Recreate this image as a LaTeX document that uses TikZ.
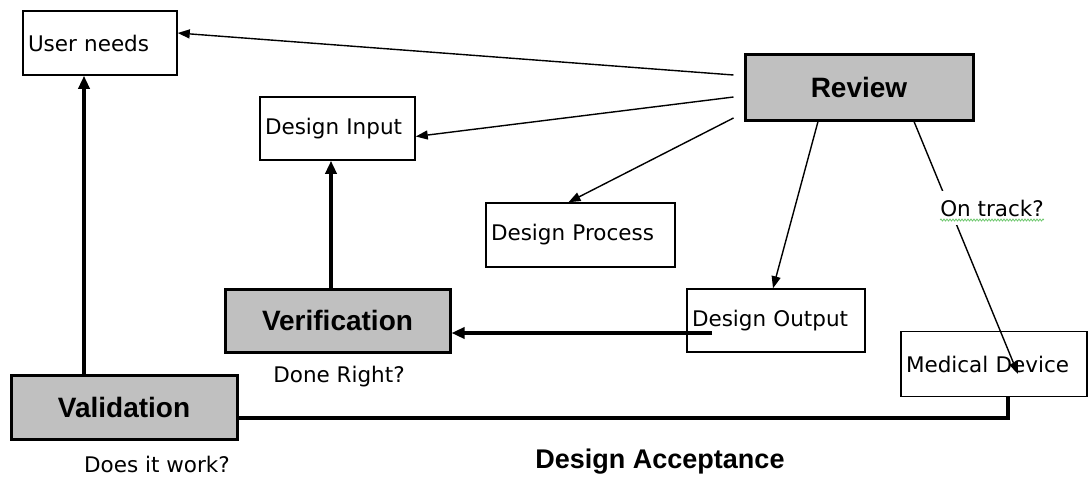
\documentclass[tikz,border=0pt]{standalone}
\usepackage{fontspec}
\setmainfont{DejaVu Sans}
\newfontfamily\headf{Liberation Sans}
\usetikzlibrary{arrows.meta,calc,decorations.pathmorphing}
\definecolor{boxgray}{RGB}{192,192,192}
\definecolor{spellgreen}{RGB}{110,200,110}
\begin{document}
\begin{tikzpicture}[x=1pt,y=-1pt,
  plainbox/.style={draw, line width=1.5pt, inner sep=5pt, align=left, font=\fontsize{21.5}{25}\selectfont},
  greybox/.style={draw, fill=boxgray, line width=3pt, inner sep=0pt, font=\headf\bfseries\fontsize{28}{32}\selectfont},
  lbl/.style={inner sep=0pt, font=\fontsize{21.5}{25}\selectfont},
  thinarr/.style={line width=1.4pt, -{Triangle[length=12pt,width=9pt]}},
  thickarr/.style={line width=3.5pt, -{Triangle[length=13pt,width=11pt]}},
  thickline/.style={line width=3.5pt},
  squig/.style={spellgreen, line width=0.8pt, decorate, decoration={snake, amplitude=1pt, segment length=3pt}}
]
\useasboundingbox (0,0) rectangle (1091,477);

\node[plainbox, text width=144pt, minimum height=64pt] (un) at (100,43) {User needs};
\node[plainbox, text width=145pt, minimum height=63pt] (di) at (337.5,128.5) {Design Input};
\node[greybox, minimum width=228pt, minimum height=66pt] (rev) at (859,87) {Review};
\node[plainbox, text width=179pt, minimum height=64pt] (dp) at (580.5,235) {Design Process};
\node[plainbox, text width=168pt, minimum height=63pt] (do) at (776,320.5) {Design Output};
\node[greybox, minimum width=225pt, minimum height=63pt] (ver) at (337.5,320.5) {Verification};
\node[plainbox, text width=176pt, minimum height=65pt] (md) at (994,364) {Medical Device};
\node[greybox, minimum width=226pt, minimum height=64pt] (val) at (124,407) {Validation};

\node[lbl] (done) at (339,377) {Done Right?};
\node[lbl] (works) at (157,464) {Does it work?};
\node[inner sep=0pt, font=\headf\bfseries\fontsize{27}{30}\selectfont] (acc) at (660,462) {Design Acceptance};

\draw[thinarr] ([xshift=-10pt,yshift=12pt]rev.west) -- ([yshift=10pt]un.east);
\draw[thinarr] ([xshift=-10pt,yshift=-10pt]rev.west) -- ([yshift=-8pt]di.east);
\draw[thinarr] ([xshift=-10pt,yshift=-31pt]rev.west) -- ([xshift=-12pt]dp.north);
\draw[thinarr] ([xshift=-41pt]rev.south) -- ([xshift=-3pt]do.north);
\draw[thinarr] ([xshift=55pt]rev.south) -- ([xshift=24pt,yshift=-10pt]md.center);
\node[fill=white, inner xsep=3pt, inner ysep=9pt, font=\fontsize{21.5}{25}\selectfont] (ot) at (992,208) {On track?};
\draw[squig] ([xshift=3pt,yshift=-4pt]ot.base west) -- ([xshift=-3pt,yshift=-4pt]ot.base east);

\draw[thickarr] ([xshift=-64pt,yshift=-12.5pt]do.center) -- ([yshift=-12.5pt]ver.east);
\draw[thickarr] ([xshift=-6.5pt]ver.north) -- ([xshift=-6.5pt]di.south);
\draw[thickarr] ([xshift=-40pt]val.north) -- ([xshift=-16pt]un.south);
\draw[thickline] ([xshift=14pt]md.south) |- ([yshift=-11pt]val.east);
\end{tikzpicture}
\end{document}
